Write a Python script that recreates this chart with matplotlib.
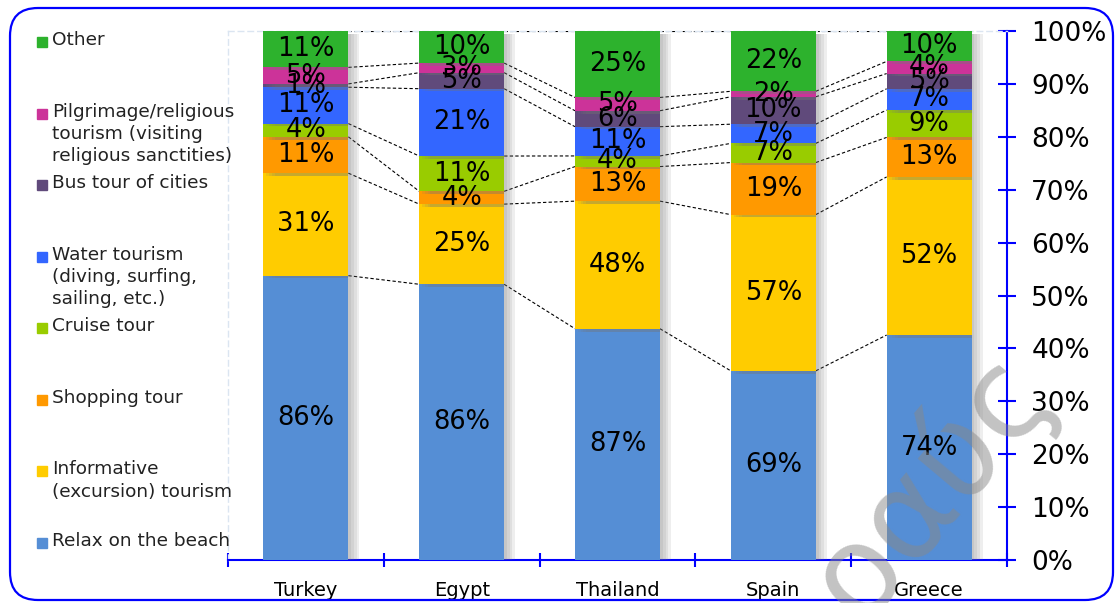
import numpy as np
import matplotlib.pyplot as plt
import matplotlib.patheffects as pe
from matplotlib.patches import FancyBboxPatch, Rectangle

# share of tourists choosing each kind of holiday, by country (%)
countries = ['Turkey', 'Egypt', 'Thailand', 'Spain', 'Greece']
relax = [86, 86, 87, 69, 74]
informative = [31, 25, 48, 57, 52]
shopping = [11, 4, 13, 19, 13]
cruise = [4, 11, 4, 7, 9]
water = [11, 21, 11, 7, 7]
bus = [1, 5, 6, 10, 5]
pilgrimage = [5, 3, 5, 2, 4]
other = [11, 10, 25, 22, 10]

names = ['Relax on the beach', 'Informative\n(excursion) tourism', 'Shopping tour',
         'Cruise tour', 'Water tourism\n(diving, surfing,\nsailing, etc.)',
         'Bus tour of cities',
         'Pilgrimage/religious\ntourism (visiting\nreligious sanctities)', 'Other']
colors = ['#558ed5', '#ffcc00', '#ff9900', '#99cc00', '#3366ff', '#604a7b', '#cc3399', '#2db22d']

W, H = 1116, 603
fig = plt.figure(figsize=(W / 100, H / 100), dpi=100)
ax = fig.add_axes([228 / W, 1 - 560 / H, (1007 - 228) / W, (560 - 31) / H])

values = np.array([relax, informative, shopping, cruise, water, bus, pilgrimage, other], float)
shares = values / values.sum(axis=0) * 100
tops = np.cumsum(shares, axis=0)
bottoms = tops - shares

x = np.arange(len(countries))
width = 0.545
# soft shadow on the right side of each column
shadow = [pe.SimplePatchShadow(offset=(off, -2), shadow_rgbFace='#777777', alpha=0.12)
          for off in (8, 6, 4, 2)] + [pe.Normal()]

for i in range(len(values)):
    ax.bar(x, shares[i], width, bottom=bottoms[i], color=colors[i], zorder=3,
           path_effects=shadow)
    for j in range(len(x)):
        ax.text(x[j], bottoms[i, j] + shares[i, j] / 2, f'{values[i, j]:.0f}%',
                ha='center', va='center', fontsize=18.5, color='black', zorder=5)
    # series lines between neighbouring columns
    for j in range(len(x) - 1):
        ax.plot([x[j] + width / 2, x[j + 1] - width / 2], [tops[i, j], tops[i, j + 1]],
                color='black', lw=0.8, ls=(0, (3, 2)), zorder=2)

ax.set_xlim(-0.5, len(x) - 0.5)
ax.set_ylim(0, 100)
ax.yaxis.tick_right()
ax.set_yticks(np.arange(0, 101, 10), [f'{t}%' for t in range(0, 101, 10)])
ax.tick_params(axis='y', direction='inout', length=13, width=1.5, color='blue',
               labelsize=19, pad=11)
ax.set_xticks(x, countries)
ax.set_xticks(np.arange(-0.5, len(x), 1), minor=True)
ax.tick_params(axis='x', which='major', length=0, labelsize=14, pad=15)
ax.tick_params(axis='x', which='minor', direction='inout', length=10, width=1.5, color='blue')

for s in ['bottom', 'right']:
    ax.spines[s].set_color('blue')
    ax.spines[s].set_linewidth(1.5)
for s in ['left', 'top']:
    ax.spines[s].set_color('#dbe5f1')
    ax.spines[s].set_linestyle((0, (4, 3)))
    ax.spines[s].set_linewidth(1)


def fx(px):
    return px / W


def fy(py):
    return 1 - py / H


# legend, top entry first, evenly spaced down the left side
for k, i in enumerate(range(len(names) - 1, -1, -1)):
    yc = 42 + k * (543 - 42) / 7
    fig.add_artist(Rectangle((fx(37), fy(yc + 5)), 10 / W, 10 / H,
                             color=colors[i], transform=fig.transFigure))
    fig.text(fx(52), fy(yc - 11), names[i], ha='left', va='top', fontsize=13.3,
             color='#222222', linespacing=1.3)

# rounded frame around the chart
fig.add_artist(FancyBboxPatch((10, 3), 1103, 592, boxstyle='round,pad=0,rounding_size=28',
                              fill=False, edgecolor='blue', lw=1.6, transform=None))

fig.text(fx(930), fy(485), 'οαύς', rotation=50, fontsize=90, color='#888888', alpha=0.5,
         ha='center', va='center', rotation_mode='anchor', zorder=10)

fig.savefig('out.png', dpi=100)
